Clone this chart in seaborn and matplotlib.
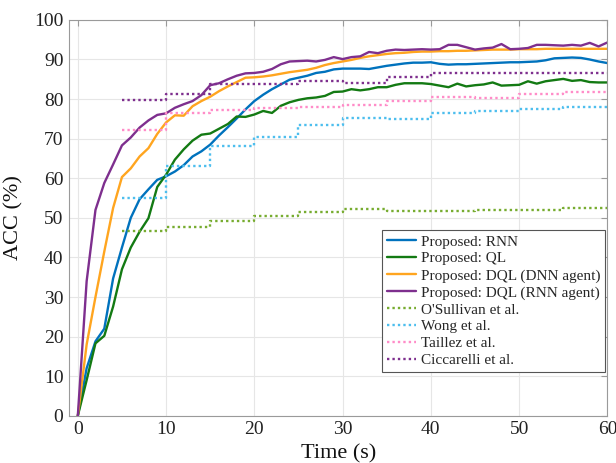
import numpy as np
import pandas as pd
import matplotlib
matplotlib.use("Agg")
import matplotlib.pyplot as plt
import seaborn as sns

# ---- data ----
t = list(range(0, 61))
rnn = [0, 12, 18.8, 22, 34.7, 42.5, 50, 54.7, 57.2, 59.6, 60.5, 61.7, 63.3, 65.5, 66.8, 68.5,
       70.8, 72.9, 75.1, 77.4, 79.5, 81.1, 82.5, 83.7, 84.9, 85.4, 85.9, 86.6, 86.9, 87.5, 87.7,
       87.7, 87.7, 87.6, 88.0, 88.4, 88.7, 89.0, 89.2, 89.2, 89.3, 88.9, 88.7, 88.8, 88.8, 88.9,
       89.0, 89.1, 89.2, 89.3, 89.3, 89.4, 89.5, 89.8, 90.3, 90.4, 90.5, 90.4, 90.0, 89.5, 89.1]
ql = [0, 9, 18.3, 20.2, 27.6, 37, 42.5, 46.5, 49.9, 57.8, 60.9, 64.7, 67.3, 69.5, 71.0, 71.3,
      72.5, 73.7, 75.6, 75.5, 76.1, 77.0, 76.5, 78.3, 79.2, 79.8, 80.2, 80.4, 80.8, 81.8, 81.9,
      82.5, 82.2, 82.5, 83.0, 83.0, 83.6, 84.0, 84.0, 84.0, 83.8, 83.4, 83.0, 83.9, 83.2, 83.5,
      83.7, 84.2, 83.4, 83.5, 83.6, 84.5, 83.9, 84.5, 84.8, 85.1, 84.6, 84.8, 84.3, 84.2, 84.2]
dql_dnn = [0, 18, 30, 41.5, 52.5, 60.3, 62.5, 65.5, 67.6, 71.2, 74.1, 75.9, 75.8, 78.2, 79.5, 80.6,
           82.0, 83.2, 84.3, 85.4, 85.5, 85.7, 86.0, 86.4, 86.8, 87.1, 87.4, 87.9, 88.6, 89.1, 89.5,
           89.9, 90.4, 90.8, 91.1, 91.4, 91.6, 91.7, 91.9, 92.0, 92.0, 92.1, 92.1, 92.2, 92.2, 92.3,
           92.4, 92.5, 92.5, 92.5, 92.6, 92.6, 92.6, 92.7, 92.7, 92.7, 92.7, 92.7, 92.7, 92.7, 92.7]
dql_rnn = [0, 34, 52, 58.8, 63.5, 68.3, 70.3, 72.8, 74.6, 76.0, 76.4, 77.8, 78.7, 79.5, 81.0, 83.5,
           84.0, 85.0, 85.9, 86.5, 86.6, 86.9, 87.6, 88.8, 89.5, 89.6, 89.7, 89.5, 89.9, 90.6, 90.1,
           90.6, 90.8, 91.9, 91.6, 92.2, 92.5, 92.4, 92.5, 92.6, 92.5, 92.6, 93.7, 93.7, 93.1, 92.5,
           92.8, 93.0, 93.9, 92.6, 92.7, 92.9, 93.7, 93.7, 93.6, 93.5, 93.7, 93.5, 94.2, 93.3, 94.3]

t_base = [5, 10, 15, 20, 25, 30, 35, 40, 45, 50, 55, 60]
osullivan = [46.6, 47.8, 49.2, 50.5, 51.5, 52.3, 51.7, 51.8, 52.0, 52.1, 52.5, 52.5]
wong = [55.0, 63.2, 68.2, 70.3, 73.4, 75.3, 75.0, 76.4, 77.0, 77.5, 78.0, 78.0]
taillez = [72.2, 76.4, 77.2, 77.7, 78.0, 78.6, 79.5, 80.6, 80.2, 81.4, 81.8, 81.8]
ciccarelli = [79.7, 81.2, 83.9, 83.9, 84.5, 84.1, 85.5, 86.5, 86.5, 86.5, 86.5, 86.5]

labels_solid = ["Proposed: RNN", "Proposed: QL", "Proposed: DQL (DNN agent)", "Proposed: DQL (RNN agent)"]
labels_base = ["O'Sullivan et al.", "Wong et al.", "Taillez et al.", "Ciccarelli et al."]
colors_solid = ["#0072BD", "#137a13", "#FFA51F", "#7E2F8E"]
colors_base = ["#77AC30", "#4DBEEE", "#FF8CC8", "#7E2F8E"]

sns.set_theme(style="whitegrid")
plt.rcParams['font.family'] = ['Liberation Serif', 'DejaVu Serif']
plt.rcParams['mathtext.fontset'] = 'stix'

fig = plt.figure(figsize=(6.16, 4.63), dpi=100)
ax = fig.add_axes([0.112, 0.102, 0.874, 0.855])

solid_series = [rnn, ql, dql_dnn, dql_rnn]
for lab, col, vals in zip(labels_solid, colors_solid, solid_series):
    df = pd.DataFrame({"t": t, "v": vals})
    sns.lineplot(data=df, x="t", y="v", ax=ax, color=col, linewidth=1.7, label=lab)

base_series = [osullivan, wong, taillez, ciccarelli]
for lab, col, vals in zip(labels_base, colors_base, base_series):
    df = pd.DataFrame({"t": t_base, "v": vals})
    sns.lineplot(data=df, x="t", y="v", ax=ax, color=col, linewidth=1.7,
                 linestyle=(0, (1, 1.3)), drawstyle="steps-post", label=lab)

ax.set_xlim(-1, 60)
ax.set_ylim(0, 100)
ax.set_xticks(range(0, 61, 10))
ax.set_yticks(range(0, 101, 10))
ax.grid(True, color="#e6e6e6", linewidth=0.8)
for s in ax.spines.values():
    s.set_visible(True)
    s.set_color("#9a9a9a")
    s.set_linewidth(0.8)
ax.set_facecolor("white")
ax.tick_params(axis="both", direction="in", length=4, width=0.8, color="#9a9a9a",
               labelsize=14, labelcolor="#222222", top=True, right=True, pad=4)
ax.set_xlabel("Time (s)", fontsize=16, color="#111111")
ax.set_ylabel("ACC (%)", fontsize=16, color="#111111")
ax.xaxis.set_label_coords(0.5, -0.072)
ax.yaxis.set_label_coords(-0.085, 0.5)

leg = ax.legend(loc="lower right", bbox_to_anchor=(0.995, 0.111), borderaxespad=0,
                fontsize=11, labelspacing=0.21, handlelength=1.9, handletextpad=0.3,
                borderpad=0.3, frameon=True, fancybox=False, framealpha=1)
leg.get_frame().set_edgecolor("#555555")
leg.get_frame().set_linewidth(0.8)

fig.savefig("out.png", dpi=100)
